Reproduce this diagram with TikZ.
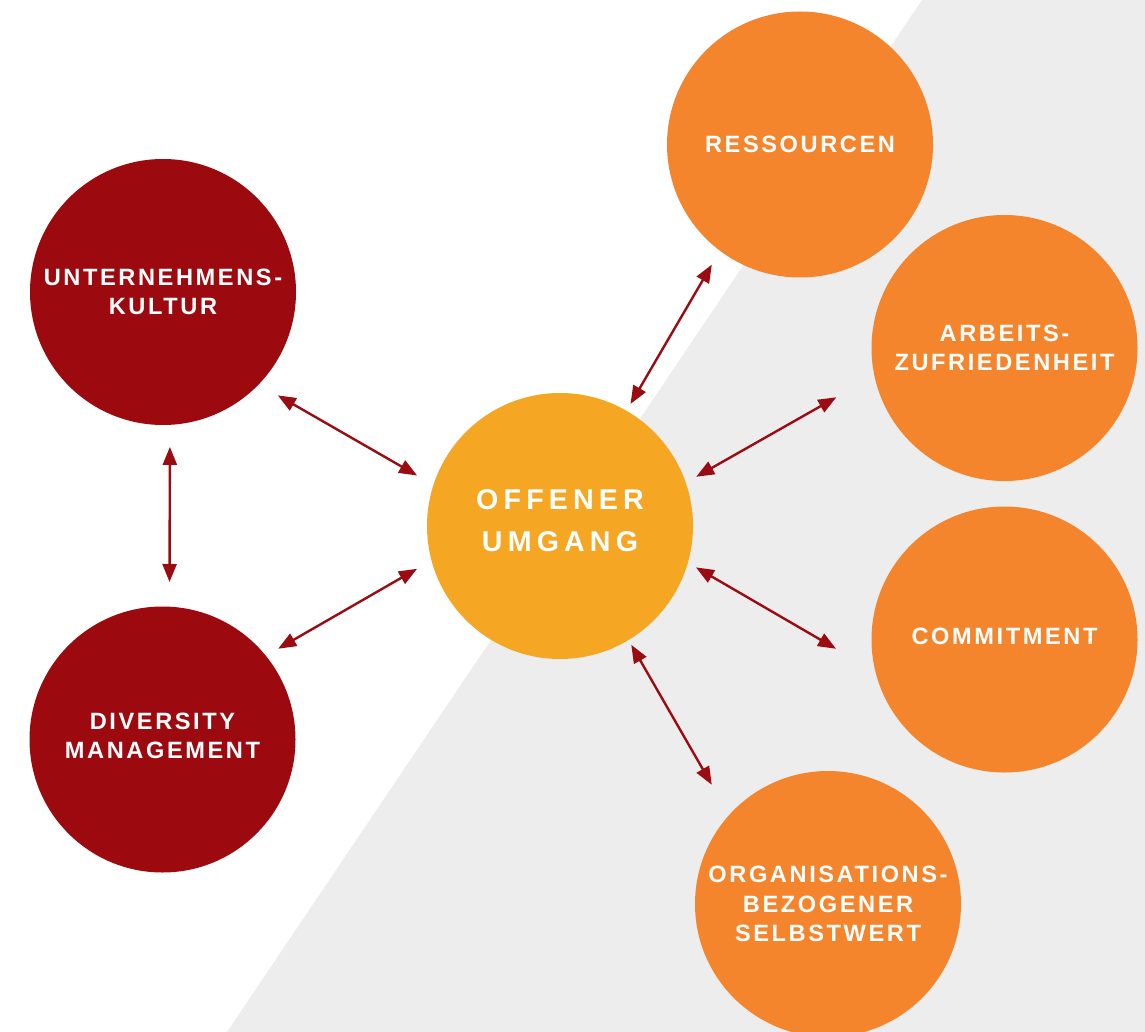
\documentclass[tikz,border=0pt]{standalone}
\usepackage{fontspec}
\setmainfont{Liberation Sans}
\newfontfamily\spacedfont[LetterSpace=11]{Liberation Sans}
\newfontfamily\bigspacedfont[LetterSpace=18]{Liberation Sans}
\usetikzlibrary{arrows.meta}
\definecolor{cred}{HTML}{9C0A10}
\definecolor{corange}{HTML}{F5852C}
\definecolor{cyellow}{HTML}{F5A623}
\definecolor{cgray}{HTML}{EDEDED}
\definecolor{carrow}{HTML}{9B0B12}
\tikzset{
  ring/.style={circle, minimum size=133pt, inner sep=0pt, outer sep=0pt,
    text=white, align=center,
    font=\spacedfont\bfseries\fontsize{11.8}{14.6}\selectfont},
  bigring/.style={ring, font=\bigspacedfont\bfseries\fontsize{14.3}{21}\selectfont},
  link/.style={draw=carrow, line width=1.2pt,
    {Triangle[length=9pt,width=7pt]}-{Triangle[length=9pt,width=7pt]}}
}
\begin{document}
\begin{tikzpicture}[x=0.5pt,y=-0.5pt]
\useasboundingbox (0,0) rectangle (1145,1032);
\clip (0,0) rectangle (1145,1032);
\fill[white] (0,0) rectangle (1145,1032);
\fill[cgray] (922,0) -- (1145,0) -- (1145,1032) -- (227,1032) -- cycle;

\node[ring, fill=cred] (kultur) at (163,292) {UNTERNEHMENS-\\KULTUR};
\node[ring, fill=cred, text depth=4pt] (diversity) at (162.5,739.5) {DIVERSITY\\MANAGEMENT};
\node[bigring, fill=cyellow, text depth=5pt] (umgang) at (560,526) {OFFENER\\UMGANG};
\node[ring, fill=corange] (ressourcen) at (800,144.5) {RESSOURCEN};
\node[ring, fill=corange] (arbeits) at (1004.5,348) {ARBEITS-\\ZUFRIEDENHEIT};
\node[ring, fill=corange, text depth=3pt] (commitment) at (1004.5,639.5) {COMMITMENT};
\node[ring, fill=corange] (org) at (828,904) {ORGANISATIONS-\\BEZOGENER\\SELBSTWERT};

\draw[link, shorten <=11.05pt, shorten >=9.45pt] (kultur.-44.3) -- (umgang.162.6);
\draw[link, shorten <=7.1pt, shorten >=8.4pt] (diversity.39.6) -- (umgang.-165.5);
\draw[link, shorten <=11.05pt, shorten >=12.35pt] (kultur.-87.4) -- (diversity.87.2);
\draw[link, shorten <=4pt, shorten >=8.05pt] (umgang.60.3) -- (ressourcen.-127.5);
\draw[link, shorten <=6pt, shorten >=21.9pt] (umgang.19.2) -- (arbeits.-168.9);
\draw[link, shorten <=4.7pt, shorten >=22.8pt] (umgang.-16.0) -- (commitment.-166.0);
\draw[link, shorten <=2.8pt, shorten >=17.45pt] (umgang.-59.7) -- (org.138.4);
\end{tikzpicture}
\end{document}
